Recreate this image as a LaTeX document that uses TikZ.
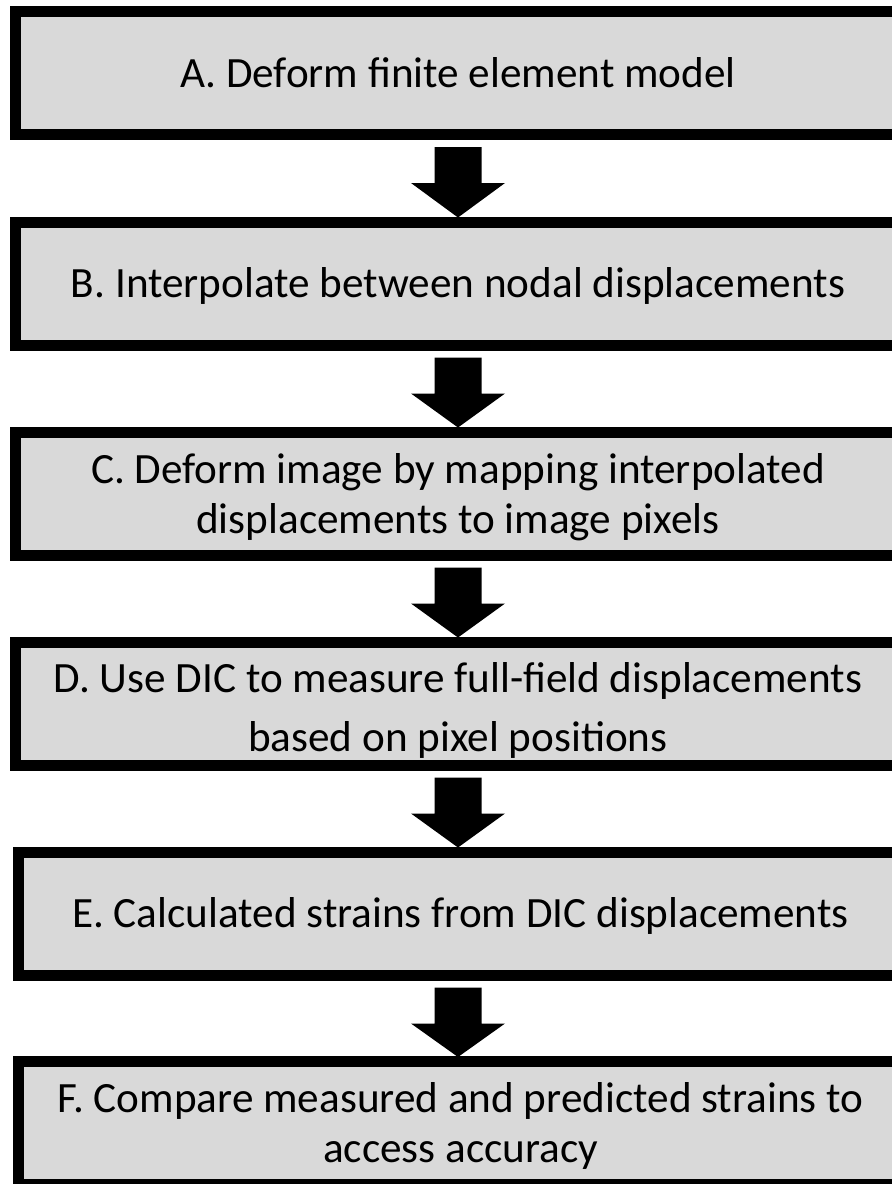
\documentclass[tikz,border=0pt]{standalone}
\usepackage{fontspec}
\setmainfont{Carlito}
\usetikzlibrary{calc}
\definecolor{boxgray}{HTML}{D9D9D9}
\newcommand\flowarrow[2]{%
  \fill[black] ($(ax |- #1.south)+(-23.5,7)$) -- ($(ax |- #1.south)+(23.5,7)$)
    -- ($(ax |- #1.south)+(23.5,43)$) -- ($(ax |- #1.south)+(47,43)$)
    -- ($(ax |- #2.north)+(0,1)$)
    -- ($(ax |- #1.south)+(-47,43)$) -- ($(ax |- #1.south)+(-23.5,43)$) -- cycle;}
\begin{document}
\begin{tikzpicture}[x=0.5pt,y=-0.5pt,
  stepbox/.style={draw=black, fill=boxgray, line width=5.5pt,
    minimum width=442.5pt, minimum height=61.5pt, inner sep=0pt, outer sep=2.75pt},
  steptext/.style={anchor=base, font=\fontsize{21.6}{26}\selectfont, inner sep=0pt}]
\useasboundingbox (0,0) rectangle (892,1184);
\fill[white] (0,0) rectangle (892,1184);
\clip (0,0) rectangle (892,1184);
\coordinate (ax) at (458,0);
\node[stepbox] (A) at (458,73) {};
\node[stepbox] (B) at (458,283.5) {};
\node[stepbox] (C) at (458,493.5) {};
\node[stepbox] (D) at (458,703.5) {};
\node[stepbox] (E) at (460.5,913.5) {};
\node[stepbox] (F) at (460.5,1123) {};
\node[steptext] (At) at (458,87) {A. Deform finite element model};
\node[steptext] (Bt) at (458,297) {B. Interpolate between nodal displacements};
\node[steptext] (Ct1) at (458,483) {C. Deform image by mapping interpolated};
\node[steptext] (Ct2) at (458,533) {displacements to image pixels};
\node[steptext] (Dt1) at (458,692) {D. Use DIC to measure full-field displacements};
\node[steptext] (Dt2) at (458,751) {based on pixel positions};
\node[steptext] (Et) at (460.5,927) {E. Calculated strains from DIC displacements};
\node[steptext] (Ft1) at (460.5,1112) {F. Compare measured and predicted strains to};
\node[steptext] (Ft2) at (460.5,1162) {access accuracy};
\flowarrow{A}{B}
\flowarrow{B}{C}
\flowarrow{C}{D}
\flowarrow{D}{E}
\flowarrow{E}{F}
\end{tikzpicture}
\end{document}
